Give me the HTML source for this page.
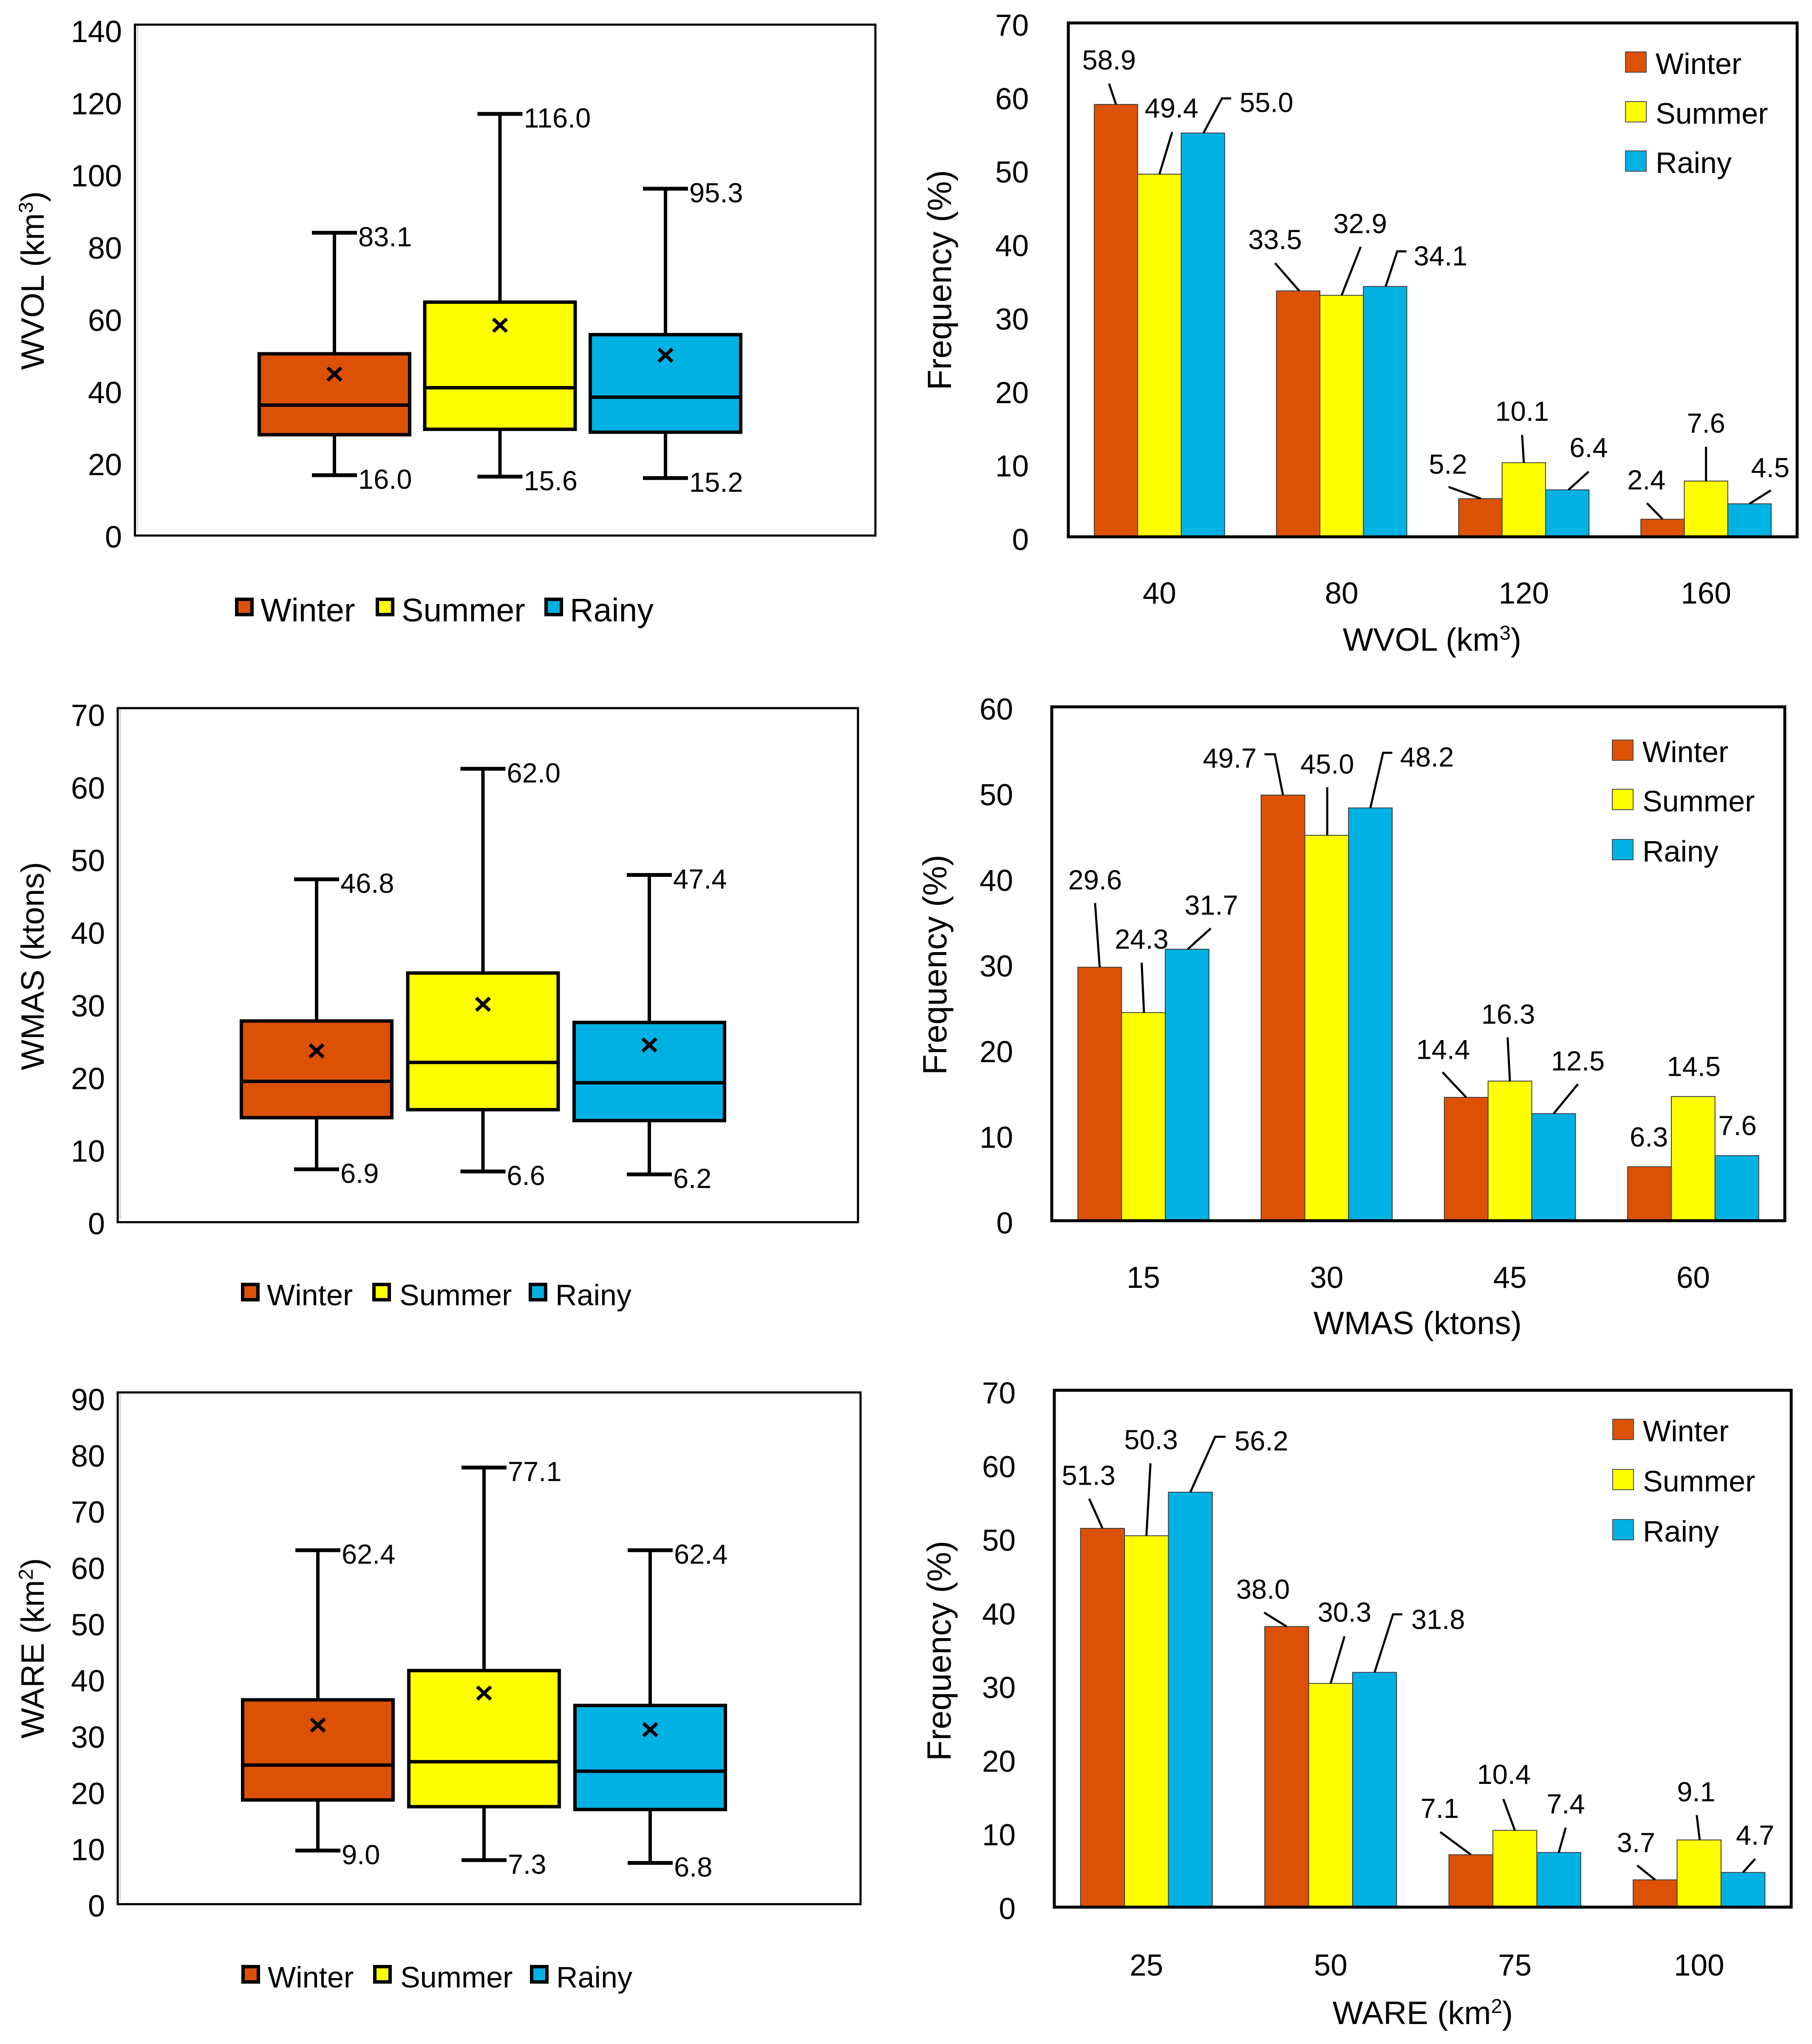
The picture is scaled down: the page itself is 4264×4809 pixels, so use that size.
<!DOCTYPE html>
<html lang="en">
<head>
<meta charset="utf-8">
<title>Seasonal WVOL, WMAS and WARE box plots and frequency charts</title>
<style>
  html, body { margin: 0; padding: 0; background: #ffffff; }
  svg { display: block; font-family: "Liberation Sans", sans-serif; fill: #000; }
</style>
</head>
<body>
<svg id="figure" xmlns="http://www.w3.org/2000/svg" width="4264" height="4809" viewBox="0 0 4264 4809"></svg>
<script>
/* ---------- data ---------- */
const seasons = ['Winter', 'Summer', 'Rainy'];

const wvolBoxTicks = [0, 20, 40, 60, 80, 100, 120, 140];
const wvolHigh = [83.1, 116.0, 95.3];
const wvolQ3 = [49.6, 63.9, 54.9];
const wvolMean = [44.0, 57.5, 49.2];
const wvolMedian = [35.4, 40.2, 37.6];
const wvolQ1 = [27.2, 28.7, 27.9];
const wvolLow = [16.0, 15.6, 15.2];

const wmasBoxTicks = [0, 10, 20, 30, 40, 50, 60, 70];
const wmasHigh = [46.8, 62.0, 47.4];
const wmasQ3 = [27.3, 33.9, 27.1];
const wmasMean = [23.2, 29.6, 24.0];
const wmasMedian = [19.0, 21.6, 18.8];
const wmasQ1 = [14.0, 15.1, 13.6];
const wmasLow = [6.9, 6.6, 6.2];

const wareBoxTicks = [0, 10, 20, 30, 40, 50, 60, 70, 80, 90];
const wareHigh = [62.4, 77.1, 62.4];
const wareQ3 = [35.8, 41.0, 34.8];
const wareMean = [31.3, 37.0, 30.5];
const wareMedian = [24.2, 24.8, 23.1];
const wareQ1 = [18.0, 16.8, 16.3];
const wareLow = [9.0, 7.3, 6.8];

const wvolBins = ['40', '80', '120', '160'];
const wvolFreqTicks = [0, 10, 20, 30, 40, 50, 60, 70];
const wvolWinterFreq = [58.9, 33.5, 5.2, 2.4];
const wvolSummerFreq = [49.4, 32.9, 10.1, 7.6];
const wvolRainyFreq = [55.0, 34.1, 6.4, 4.5];

const wmasBins = ['15', '30', '45', '60'];
const wmasFreqTicks = [0, 10, 20, 30, 40, 50, 60];
const wmasWinterFreq = [29.6, 49.7, 14.4, 6.3];
const wmasSummerFreq = [24.3, 45.0, 16.3, 14.5];
const wmasRainyFreq = [31.7, 48.2, 12.5, 7.6];

const wareBins = ['25', '50', '75', '100'];
const wareFreqTicks = [0, 10, 20, 30, 40, 50, 60, 70];
const wareWinterFreq = [51.3, 38.0, 7.1, 3.7];
const wareSummerFreq = [50.3, 30.3, 10.4, 9.1];
const wareRainyFreq = [56.2, 31.8, 7.4, 4.7];

/* ---------- callout layout (offsets from each bar's top centre; not data) ---------- */
const wvolCalloutLayout = [
  [-12,-102,[[0,0],[-12,-48]]], [21,-152,[[0,0],[22,-97]]], [110,-70,[[1,0],[33,-80],[49,-80]]],
  [-40,-118,[[2,0],[-40,-64]]], [32,-165,[[0,0],[33,-112]]], [96,-70,[[1,0],[21,-81],[37,-81]]],
  [-56,-79,[[1,0],[-55,-27]]], [-3,-118,[[0,0],[-3,-64]]], [37,-97,[[2,0],[37,-42]]],
  [-28,-90,[[0,0],[-27,-37]]], [0,-133,[[0,0],[0,-79]]], [36,-83,[[0,0],[37,-31]]]
];
const wmasCalloutLayout = [
  [-8,-201,[[0,0],[-8,-148]]], [-3,-169,[[1,0],[-3,-115]]], [42,-101,[[1,0],[41,-48]]],
  [-92,-85,[[0,0],[-14,-94],[-32,-94]]], [1,-164,[[1,0],[1,-111]]], [98,-117,[[0,0],[22,-127],[38,-127]]],
  [-40,-110,[[0,0],[-41,-58]]], [-3,-154,[[0,0],[-4,-101]]], [42,-121,[[0,0],[42,-68]]],
  [-1,-68,[]], [1,-69,[]], [1,-69,[]]
];
const wareCalloutLayout = [
  [-24,-121,[[0,0],[-23,-68]]], [8,-220,[[0,0],[7,-166]]], [123,-117,[[0,0],[43,-127],[61,-127]]],
  [-41,-85,[[0,0],[-39,-32]]], [24,-163,[[0,0],[24,-108]]], [110,-121,[[0,0],[32,-133],[48,-133]]],
  [-54,-106,[[0,0],[-53,-52]]], [-19,-128,[[0,0],[-20,-72]]], [12,-111,[[0,0],[12,-57]]],
  [-33,-85,[[0,0],[-31,-33]]], [-5,-110,[[1,0],[-4,-57]]], [21,-85,[[0,0],[21,-31]]]
];

/* ---------- drawing ---------- */
const NS = 'http://www.w3.org/2000/svg';
const figure = document.getElementById('figure');
const seasonColors = ['#dd5105', '#ffff00', '#00b1e4'];

function make(parent, tag, attrs, content) {
  const node = document.createElementNS(NS, tag);
  for (const key in attrs) node.setAttribute(key, attrs[key]);
  if (content !== undefined) node.textContent = content;
  parent.appendChild(node);
  return node;
}

function drawTitle(parent, name, x, y, size, rotated, base, sup, tail) {
  const attrs = { x: x, y: y, 'font-size': size, 'text-anchor': 'middle' };
  if (rotated) attrs.transform = 'rotate(-90 ' + x + ' ' + y + ')';
  const el = make(parent, 'text', attrs);
  
  
  el.appendChild(document.createTextNode(base));
  if (sup) {
    make(el, 'tspan', { 'font-size': size * 0.62, dy: -size * 0.34 }, sup);
    make(el, 'tspan', { dy: size * 0.34 }, tail);
  }
}

function drawYTicks(parent, ticks, right, labelBottom, labelTop, size) {
  const max = ticks[ticks.length - 1];
  ticks.forEach(function (tick) {
    const yc = labelBottom - tick / max * (labelBottom - labelTop);
    const el = make(parent, 'text', { x: right, y: yc + 26, 'font-size': size, 'text-anchor': 'end' }, String(tick));
    
    
  });
}

function drawBoxPanel(cfg) {
  const g = make(figure, 'g', {});
  
  
  const max = cfg.ticks[cfg.ticks.length - 1];
  const y = function (v) { return cfg.plotBottom - v / max * (cfg.plotBottom - cfg.plotTop); };
  const x = function (i) { return cfg.firstCentre + i * cfg.spacing; };

  const frame = make(g, 'rect', { x: cfg.left, y: cfg.top, width: cfg.right - cfg.left, height: cfg.bottom - cfg.top, fill: '#fff', stroke: '#000', 'stroke-width': 5 });
  
  

  const shade = make(g, 'line', { x1: cfg.left + 6, x2: cfg.left + 6, y1: cfg.top + 3, y2: cfg.bottom - 8, stroke: '#d8d8d8', 'stroke-width': 3.5 });
  
  

  drawYTicks(g, cfg.ticks, cfg.tickRight, cfg.tickLabelBottom, cfg.tickLabelTop, 72);
  drawTitle(g, 'y-axis-title', 103, cfg.titleY, 76, true, cfg.title[0], cfg.title[1], cfg.title[2]);

  seasons.forEach(function (season, i) {
    const cx = x(i);
    const box = make(g, 'g', {});
    
    

    const whisker = make(box, 'line', { x1: cx, x2: cx, y1: y(cfg.high[i]), y2: y(cfg.low[i]), stroke: '#000', 'stroke-width': 8 });
    
    

    [cfg.high[i], cfg.low[i]].forEach(function (v) {
      const cap = make(box, 'line', { x1: cx - 53, x2: cx + 53, y1: y(v), y2: y(v), stroke: '#000', 'stroke-width': 9 });
      
      
      const label = make(box, 'text', { x: cx + 56, y: y(v) + 32, 'font-size': 65 }, v.toFixed(1));
      
      
    });

    const rect = make(box, 'rect', { x: cx - 177, y: y(cfg.q3[i]), width: 354, height: y(cfg.q1[i]) - y(cfg.q3[i]), fill: seasonColors[i], stroke: '#000', 'stroke-width': 8 });
    
    

    const median = make(box, 'line', { x1: cx - 177, x2: cx + 177, y1: y(cfg.median[i]), y2: y(cfg.median[i]), stroke: '#000', 'stroke-width': 8 });
    
    

    const my = y(cfg.mean[i]);
    const mark = make(box, 'path', { d: 'M' + (cx - 16) + ' ' + (my - 15) + 'L' + (cx + 16) + ' ' + (my + 15) + 'M' + (cx + 16) + ' ' + (my - 15) + 'L' + (cx - 16) + ' ' + (my + 15), stroke: '#000', 'stroke-width': 8, fill: 'none' });
    
    
  });

  const legend = make(g, 'g', {});
  
  
  seasons.forEach(function (season, i) {
    const swatch = make(legend, 'rect', { x: cfg.legendSwatchX[i] + 4, y: cfg.legendY + 4, width: 36, height: 36, fill: seasonColors[i], stroke: '#000', 'stroke-width': 8 });
    
    
    const text = make(legend, 'text', { x: cfg.legendTextX[i], y: cfg.legendTextY, 'font-size': cfg.legendSize }, season);
    
    
  });
}

function drawBarPanel(cfg) {
  const g = make(figure, 'g', {});
  
  
  const max = cfg.ticks[cfg.ticks.length - 1];
  const y = function (v) { return cfg.bottom - v / max * (cfg.bottom - cfg.top); };
  const groupWidth = (cfg.right - cfg.left) / cfg.bins.length;
  const barWidth = groupWidth * 0.2385;
  const xc = function (i) { return cfg.left + groupWidth * (i + 0.5); };
  const scaleX = 1.36;
  const scaleY = cfg.calloutScaleY;

  cfg.series.forEach(function (values, s) {
    values.forEach(function (v, i) {
      const left = xc(i) + (s - 1.5) * barWidth;
      const bar = make(g, 'rect', { x: left, y: y(v), width: barWidth, height: cfg.bottom - y(v), fill: seasonColors[s], stroke: '#3a3a3a', 'stroke-width': 2 });
      
      
    });
  });

  cfg.series.forEach(function (values, s) {
    values.forEach(function (v, i) {
      const cx = xc(i) + (s - 1) * barWidth;
      const top = y(v);
      const layout = cfg.callouts[i * 3 + s];
      if (layout[2].length) {
        const pts = layout[2].map(function (p) { return (cx + p[0] * scaleX) + ',' + (top + p[1] * scaleY); }).join(' ');
        const leader = make(g, 'polyline', { points: pts, fill: 'none', stroke: '#000', 'stroke-width': 5 });
        
        
      }
      const label = make(g, 'text', { x: cx + layout[0] * scaleX, y: top + layout[1] * scaleY + 22, 'font-size': 65, 'text-anchor': 'middle' }, v.toFixed(1));
      
      
    });
  });

  const frame = make(g, 'rect', { x: cfg.left, y: cfg.top, width: cfg.right - cfg.left, height: cfg.bottom - cfg.top, fill: 'none', stroke: '#000', 'stroke-width': 7 });
  
  

  drawYTicks(g, cfg.ticks, cfg.tickRight, cfg.tickLabelBottom, cfg.tickLabelTop, 71);
  drawTitle(g, 'y-axis-title', cfg.yTitleX, cfg.yTitleY, 79, true, 'Frequency (%)');
  drawTitle(g, 'x-axis-title', cfg.xTitleX, cfg.xTitleY, 76, false, cfg.title[0], cfg.title[1], cfg.title[2]);

  cfg.bins.forEach(function (bin, i) {
    const el = make(g, 'text', { x: xc(i), y: cfg.xTickY, 'font-size': 71, 'text-anchor': 'middle' }, bin);
    
    
  });

  const legend = make(g, 'g', {});
  
  
  seasons.forEach(function (season, i) {
    const swatch = make(legend, 'rect', { x: cfg.legendX, y: cfg.legendY[i], width: 49, height: 48, fill: seasonColors[i], stroke: '#4a4a4a', 'stroke-width': 2 });
    
    
    const text = make(legend, 'text', { x: cfg.legendX + 71, y: cfg.legendY[i] + 52, 'font-size': 70 }, season);
    
    
  });
}

drawBoxPanel({
  name: 'wvol-box-plot', left: 317.5, right: 2060, top: 58, bottom: 1260, plotTop: 64, plotBottom: 1254,
  ticks: wvolBoxTicks, high: wvolHigh, q3: wvolQ3, mean: wvolMean, median: wvolMedian, q1: wvolQ1, low: wvolLow,
  firstCentre: 787, spacing: 389.5, tickRight: 287, tickLabelBottom: 1262, tickLabelTop: 73,
  title: ['WVOL (km', '3', ')'], titleY: 660,
  legendSwatchX: [553, 884, 1281], legendTextX: [613, 945, 1341], legendY: 1406, legendTextY: 1462, legendSize: 77
});
drawBoxPanel({
  name: 'wmas-box-plot', left: 277, right: 2019, top: 1666, bottom: 2875.5, plotTop: 1672, plotBottom: 2869,
  ticks: wmasBoxTicks, high: wmasHigh, q3: wmasQ3, mean: wmasMean, median: wmasMedian, q1: wmasQ1, low: wmasLow,
  firstCentre: 745, spacing: 391.5, tickRight: 247, tickLabelBottom: 2878, tickLabelTop: 1682,
  title: ['WMAS (ktons)'], titleY: 2273,
  legendSwatchX: [567, 876, 1244], legendTextX: [628, 940, 1307], legendY: 3018, legendTextY: 3071, legendSize: 70
});
drawBoxPanel({
  name: 'ware-box-plot', left: 277, right: 2025, top: 3276, bottom: 4480, plotTop: 3282, plotBottom: 4473,
  ticks: wareBoxTicks, high: wareHigh, q3: wareQ3, mean: wareMean, median: wareMedian, q1: wareQ1, low: wareLow,
  firstCentre: 748, spacing: 391, tickRight: 247, tickLabelBottom: 4483, tickLabelTop: 3292,
  title: ['WARE (km', '2', ')'], titleY: 3878,
  legendSwatchX: [568, 878, 1247], legendTextX: [630, 942, 1309], legendY: 4623, legendTextY: 4676, legendSize: 70
});
drawBarPanel({
  name: 'wvol-frequency-chart', left: 2514, right: 4229, top: 54, bottom: 1263,
  ticks: wvolFreqTicks, bins: wvolBins, series: [wvolWinterFreq, wvolSummerFreq, wvolRainyFreq],
  callouts: wvolCalloutLayout, calloutScaleY: 1.0204,
  tickRight: 2421, tickLabelBottom: 1268, tickLabelTop: 58,
  title: ['WVOL (km', '3', ')'], yTitleX: 2238, yTitleY: 659, xTitleX: 3370, xTitleY: 1531, xTickY: 1420,
  legendX: 3825, legendY: [122, 239, 355]
});
drawBarPanel({
  name: 'wmas-frequency-chart', left: 2475, right: 4200, top: 1663, bottom: 2872,
  ticks: wmasFreqTicks, bins: wmasBins, series: [wmasWinterFreq, wmasSummerFreq, wmasRainyFreq],
  callouts: wmasCalloutLayout, calloutScaleY: 1.0204,
  tickRight: 2384, tickLabelBottom: 2876, tickLabelTop: 1667,
  title: ['WMAS (ktons)'], yTitleX: 2227, yTitleY: 2270, xTitleX: 3336, xTitleY: 3139, xTickY: 3030,
  legendX: 3794, legendY: [1741, 1857, 1975]
});
drawBarPanel({
  name: 'ware-frequency-chart', left: 2481, right: 4215, top: 3271, bottom: 4487,
  ticks: wareFreqTicks, bins: wareBins, series: [wareWinterFreq, wareSummerFreq, wareRainyFreq],
  callouts: wareCalloutLayout, calloutScaleY: 1.0261,
  tickRight: 2390, tickLabelBottom: 4489, tickLabelTop: 3276,
  title: ['WARE (km', '2', ')'], yTitleX: 2237, yTitleY: 3884, xTitleX: 3348, xTitleY: 4762, xTickY: 4648,
  legendX: 3795, legendY: [3339, 3457, 3575]
});
</script>
</body>
</html>
